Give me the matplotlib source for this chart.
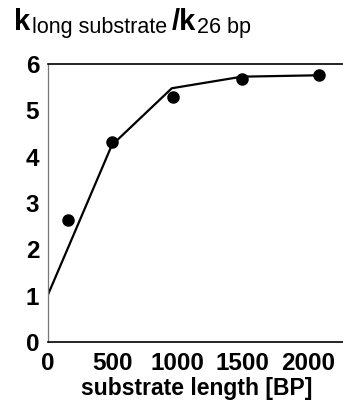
import matplotlib
matplotlib.use("Agg")
import matplotlib.pyplot as plt

plt.rcParams['font.family'] = ['Liberation Sans', 'DejaVu Sans']

# measured data points
point_x = [160, 494, 962, 1494, 2083]
point_y = [2.63, 4.33, 5.30, 5.67, 5.76]
# fitted curve vertices
line_x = [0, 160, 494, 955, 1494, 2083]
line_y = [1.0, 2.05, 4.25, 5.48, 5.73, 5.76]

x_ticks = [0, 500, 1000, 1500, 2000]
y_ticks = [0, 1, 2, 3, 4, 5, 6]

fig = plt.figure(figsize=(3.43, 4.01), dpi=100)
ax = fig.add_axes([0.1385, 0.147, 0.8615, 0.693])

ax.plot(line_x, line_y, color='black', lw=1.6, zorder=2)
ax.plot(point_x, point_y, 'o', color='black', ms=8, zorder=3)

ax.set_xlim(0, 2270)
ax.set_ylim(0, 6)
ax.set_xticks(x_ticks)
ax.set_yticks(y_ticks)
ax.tick_params(length=0, labelsize=17.5)
ax.tick_params(axis='y', pad=6)
ax.tick_params(axis='x', pad=7)
for lab in ax.get_xticklabels() + ax.get_yticklabels():
    lab.set_fontweight('bold')

ax.spines['right'].set_visible(False)
ax.spines['left'].set_color('#777777')
ax.spines['left'].set_linewidth(0.9)
ax.spines['top'].set_linewidth(1.2)
ax.spines['bottom'].set_linewidth(1.2)

# x-axis label placed explicitly
fig.text(197/343, 1 - 395/401, 'substrate length [BP]', fontsize=16.5,
         fontweight='bold', ha='center', va='baseline')

# title-like y-axis label
yk = 1 - 30/401
ys = 1 - 33/401
fig.text(14/343, yk, 'k', fontsize=21, fontweight='bold', va='baseline')
fig.text(32/343, ys, 'long substrate', fontsize=15.5, va='baseline')
fig.text(172/343, yk, '/k', fontsize=21, fontweight='bold', va='baseline')
fig.text(197/343, ys, '26 bp', fontsize=15.5, va='baseline')

fig.savefig('out.png', dpi=100)
